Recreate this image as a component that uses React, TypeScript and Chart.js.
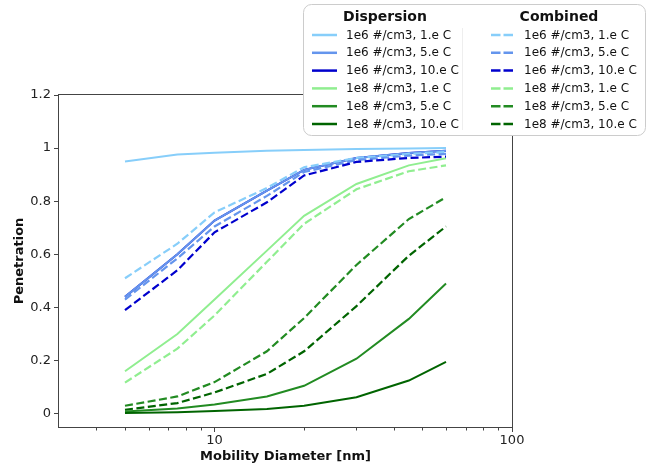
import React, { useEffect, useRef } from 'react';
import { Chart, registerables } from 'chart.js';

Chart.register(...registerables);

// ---- data ----
const diameters = [5, 7.5, 10, 15, 20, 30, 45, 60];

const disp1e6c1 = [0.95, 0.976, 0.983, 0.99, 0.993, 0.997, 0.999, 1.0];
const disp1e6c5 = [0.44, 0.6, 0.727, 0.84, 0.918, 0.963, 0.982, 0.99];
const disp1e6c10 = [0.44, 0.6, 0.727, 0.84, 0.918, 0.963, 0.982, 0.99];
const disp1e8c1 = [0.16, 0.3, 0.43, 0.614, 0.745, 0.865, 0.935, 0.962];
const disp1e8c5 = [0.008, 0.02, 0.035, 0.065, 0.105, 0.207, 0.357, 0.49];
const disp1e8c10 = [0.003, 0.006, 0.01, 0.018, 0.03, 0.062, 0.125, 0.195];

const comb1e6c1 = [0.51, 0.64, 0.758, 0.85, 0.928, 0.963, 0.978, 0.985];
const comb1e6c5 = [0.43, 0.585, 0.705, 0.82, 0.91, 0.955, 0.972, 0.978];
const comb1e6c10 = [0.39, 0.54, 0.683, 0.796, 0.897, 0.948, 0.963, 0.968];
const comb1e8c1 = [0.117, 0.245, 0.37, 0.572, 0.715, 0.845, 0.913, 0.935];
const comb1e8c5 = [0.03, 0.065, 0.119, 0.235, 0.36, 0.56, 0.733, 0.815];
const comb1e8c10 = [0.015, 0.04, 0.08, 0.15, 0.235, 0.405, 0.595, 0.705];

const seriesLabels = [
  '1e6 #/cm3, 1.e C',
  '1e6 #/cm3, 5.e C',
  '1e6 #/cm3, 10.e C',
  '1e8 #/cm3, 1.e C',
  '1e8 #/cm3, 5.e C',
  '1e8 #/cm3, 10.e C',
];
const seriesColors = ['#87CEFA', '#6495ED', '#0000CD', '#90EE90', '#228B22', '#006400'];
const dispersionSeries = [disp1e6c1, disp1e6c5, disp1e6c10, disp1e8c1, disp1e8c5, disp1e8c10];
const combinedSeries = [comb1e6c1, comb1e6c5, comb1e6c10, comb1e8c1, comb1e8c5, comb1e8c10];
// top-most first (Chart.js draws the first dataset on top)
const dispersionDrawOrder = [5, 4, 3, 1, 2, 0];
const combinedDrawOrder = [5, 4, 3, 2, 1, 0];

const yTicks = [0, 0.2, 0.4, 0.6, 0.8, 1.0, 1.2];
const xMajorTicks = [10, 100];
const xMinorTicks = [4, 5, 6, 7, 8, 9, 20, 30, 40, 50, 60, 70, 80, 90];

const legendTitles = ['Dispersion', 'Combined'];

const FONT = '"DejaVu Sans", sans-serif';
const DASH = [8, 3.5];

const framePlugin = {
  id: 'frameAndLegend',
  afterDraw(chart: any) {
    const { ctx, chartArea: a } = chart;
    const xs = chart.scales.x;
    ctx.save();
    // frame
    ctx.strokeStyle = '#444';
    ctx.lineWidth = 1;
    const L = Math.round(a.left) - 0.5;
    const R = Math.round(a.right) + 0.5;
    const T = Math.round(a.top) - 0.5;
    const B = Math.round(a.bottom) + 0.5;
    ctx.strokeRect(L, T, R - L, B - T);
    // minor x ticks
    ctx.beginPath();
    for (const v of xMinorTicks) {
      const px = Math.round(xs.getPixelForValue(v)) + 0.5;
      ctx.moveTo(px, B);
      ctx.lineTo(px, B + 3);
    }
    ctx.stroke();

    // legend box
    const bx = 303.5, by = 4.5, bw = 342, bh = 131, r = 8;
    ctx.beginPath();
    ctx.moveTo(bx + r, by);
    ctx.lineTo(bx + bw - r, by);
    ctx.arcTo(bx + bw, by, bx + bw, by + r, r);
    ctx.lineTo(bx + bw, by + bh - r);
    ctx.arcTo(bx + bw, by + bh, bx + bw - r, by + bh, r);
    ctx.lineTo(bx + r, by + bh);
    ctx.arcTo(bx, by + bh, bx, by + bh - r, r);
    ctx.lineTo(bx, by + r);
    ctx.arcTo(bx, by, bx + r, by, r);
    ctx.closePath();
    ctx.fillStyle = '#ffffff';
    ctx.fill();
    ctx.strokeStyle = '#cccccc';
    ctx.stroke();

    // faint separator
    ctx.strokeStyle = '#eeeeee';
    ctx.beginPath();
    ctx.moveTo(462.5, 28);
    ctx.lineTo(462.5, 130);
    ctx.stroke();

    ctx.fillStyle = '#111';
    ctx.font = `bold 14px ${FONT}`;
    ctx.textAlign = 'center';
    ctx.textBaseline = 'alphabetic';
    ctx.fillText(legendTitles[0], 385, 20.5);
    ctx.fillText(legendTitles[1], 559, 20.5);

    ctx.font = `12px ${FONT}`;
    ctx.textAlign = 'left';
    ctx.textBaseline = 'middle';
    for (let i = 0; i < 6; i++) {
      const y = 35 + i * 17.8;
      // dispersion (solid)
      ctx.strokeStyle = seriesColors[i];
      ctx.lineWidth = 2.5;
      ctx.setLineDash([]);
      ctx.beginPath();
      ctx.moveTo(312, y);
      ctx.lineTo(337, y);
      ctx.stroke();
      ctx.fillStyle = '#111';
      ctx.fillText(seriesLabels[i], 346, y + 0.5);
      // combined (dashed)
      ctx.setLineDash([9.5, 3]);
      ctx.beginPath();
      ctx.moveTo(491, y);
      ctx.lineTo(513, y);
      ctx.stroke();
      ctx.setLineDash([]);
      ctx.fillText(seriesLabels[i], 524, y + 0.5);
    }
    ctx.restore();
  },
};

export default function App() {
  const ref = useRef<HTMLCanvasElement>(null);

  useEffect(() => {
    document.body.style.margin = '0';
    const toPts = (vals: number[]) => diameters.map((d, i) => ({ x: d, y: vals[i] }));
    const datasets: any[] = [];
    combinedDrawOrder.forEach((i) => {
      datasets.push({
        label: 'Combined ' + seriesLabels[i],
        data: toPts(combinedSeries[i]),
        borderColor: seriesColors[i],
        backgroundColor: seriesColors[i],
        borderWidth: 2.2,
        borderDash: DASH,
        pointRadius: 0,
        tension: 0,
        fill: false,
      });
    });
    dispersionDrawOrder.forEach((i) => {
      datasets.push({
        label: 'Dispersion ' + seriesLabels[i],
        data: toPts(dispersionSeries[i]),
        borderColor: seriesColors[i],
        backgroundColor: seriesColors[i],
        borderWidth: 2,
        pointRadius: 0,
        tension: 0,
        fill: false,
      });
    });

    const chart = new Chart(ref.current as HTMLCanvasElement, {
      type: 'line',
      data: { datasets },
      plugins: [framePlugin],
      options: {
        animation: false,
        responsive: true,
        maintainAspectRatio: false,
        layout: { padding: { left: 0, top: 95, right: 140, bottom: 0 } },
        plugins: { legend: { display: false }, tooltip: { enabled: false } },
        scales: {
          x: {
            type: 'logarithmic',
            min: 3,
            max: 100,
            afterBuildTicks: (s: any) => {
              s.ticks = xMajorTicks.map((v) => ({ value: v, major: true }));
            },
            afterFit: (s: any) => {
              s.height = 41;
            },
            grid: {
              display: true,
              drawOnChartArea: false,
              drawTicks: true,
              tickLength: 5,
              tickColor: '#444',
            },
            border: { display: false },
            ticks: {
              autoSkip: false,
              maxRotation: 0,
              padding: 1,
              color: '#222',
              font: { family: FONT, size: 13 },
              callback: (v: any) => String(v),
            },
            title: {
              display: true,
              text: 'Mobility Diameter [nm]',
              color: '#111',
              font: { family: FONT, size: 13, weight: 'bold', lineHeight: 1.2 },
              padding: { top: 0, bottom: 3.5 },
            },
          },
          y: {
            type: 'linear',
            min: -0.05,
            max: 1.2,
            afterBuildTicks: (s: any) => {
              s.ticks = yTicks.map((v) => ({ value: v }));
            },
            afterFit: (s: any) => {
              s.width = 59;
            },
            grid: {
              display: true,
              drawOnChartArea: false,
              drawTicks: true,
              tickLength: 5,
              tickColor: '#444',
            },
            border: { display: false },
            ticks: {
              autoSkip: false,
              padding: 3,
              color: '#222',
              font: { family: FONT, size: 13 },
              callback: (v: any) => String(Number(Number(v).toFixed(1))),
            },
            title: {
              display: true,
              text: 'Penetration',
              color: '#111',
              font: { family: FONT, size: 13, weight: 'bold', lineHeight: 1.2 },
              padding: { top: 12, bottom: 0 },
            },
          },
        },
      } as any,
    });
    return () => chart.destroy();
  }, []);

  return (
    <div style={{ position: 'fixed', left: 0, top: 0, width: 652, height: 468 }}>
      <canvas ref={ref} />
    </div>
  );
}
